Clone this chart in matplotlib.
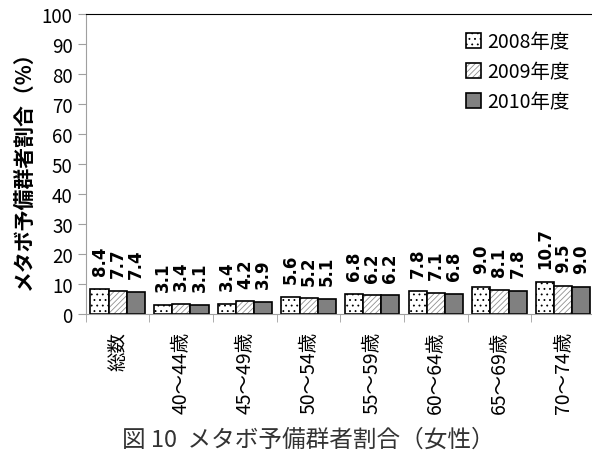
import numpy as np
import matplotlib.pyplot as plt

plt.rcParams['font.family'] = ['Noto Sans CJK JP', 'DejaVu Sans']
plt.rcParams['hatch.linewidth'] = 0.6

categories = ['総数', '40～44歳', '45～49歳', '50～54歳', '55～59歳',
              '60～64歳', '65～69歳', '70～74歳']
years = ['2008年度', '2009年度', '2010年度']
v2008 = [8.4, 3.1, 3.4, 5.6, 6.8, 7.8, 9.0, 10.7]
v2009 = [7.7, 3.4, 4.2, 5.2, 6.2, 7.1, 8.1, 9.5]
v2010 = [7.4, 3.1, 3.9, 5.1, 6.2, 6.8, 7.8, 9.0]

fig = plt.figure(figsize=(5.92, 4.52), dpi=100)
ax = fig.add_axes([0.145, 0.303, 0.86, 0.664])

x = np.arange(len(categories))
w = 0.285
handles = []

for i, vals in enumerate([v2008, v2009, v2010]):
    pos = x + (i - 1) * w
    if i == 0:
        b = ax.bar(pos, vals, w, color='white', hatch='...', edgecolor='black',
                   linewidth=1.2)
        handles.append(b)
    elif i == 1:
        # gray hatch underneath, black outline on top
        b1 = ax.bar(pos, vals, w, color='white', hatch='//////',
                    edgecolor='#909090', linewidth=0)
        b2 = ax.bar(pos, vals, w, fill=False, edgecolor='black', linewidth=1.2)
        handles.append((b1, b2))
    else:
        b = ax.bar(pos, vals, w, color='#808080', edgecolor='black',
                   linewidth=1.2)
        handles.append(b)
    for p, v in zip(pos, vals):
        ax.annotate(f'{v:.1f}', (p, v), xytext=(0, 10), textcoords='offset points',
                    rotation=90, ha='center', va='bottom', fontsize=12,
                    fontweight='bold', family=['DejaVu Sans'])

ax.set_ylim(0, 100)
ax.set_yticks(range(0, 101, 10))
ax.set_xlim(-0.5, len(categories) - 0.5)
ax.set_xticks(x)
ax.set_xticklabels(categories, rotation=90, fontsize=14)
ax.set_xticks(np.arange(len(categories) + 1) - 0.5, minor=True)
ax.tick_params(axis='x', which='major', length=0, pad=12)
ax.tick_params(axis='x', which='minor', length=6, color='#a0a0a0')
ax.tick_params(axis='y', length=6, color='#a0a0a0', labelsize=13.5)

ax.spines['right'].set_visible(False)
ax.spines['left'].set_color('#a0a0a0')
ax.spines['bottom'].set_color('#a0a0a0')
ax.spines['top'].set_color('black')

ax.set_ylabel('メタボ予備群者割合（%）', fontsize=15, fontweight='bold', labelpad=6)

ax.legend(handles, years, loc='upper right', frameon=False, fontsize=14,
          handlelength=0.8, handleheight=0.8, handletextpad=0.3,
          labelspacing=0.45, bbox_to_anchor=(0.985, 1.0))

fig.text(0.52, 0.0, '図 10  メタボ予備群者割合（女性）', ha='center', va='bottom',
         fontsize=17, color='#333333')

fig.savefig('out.png', dpi=100)
